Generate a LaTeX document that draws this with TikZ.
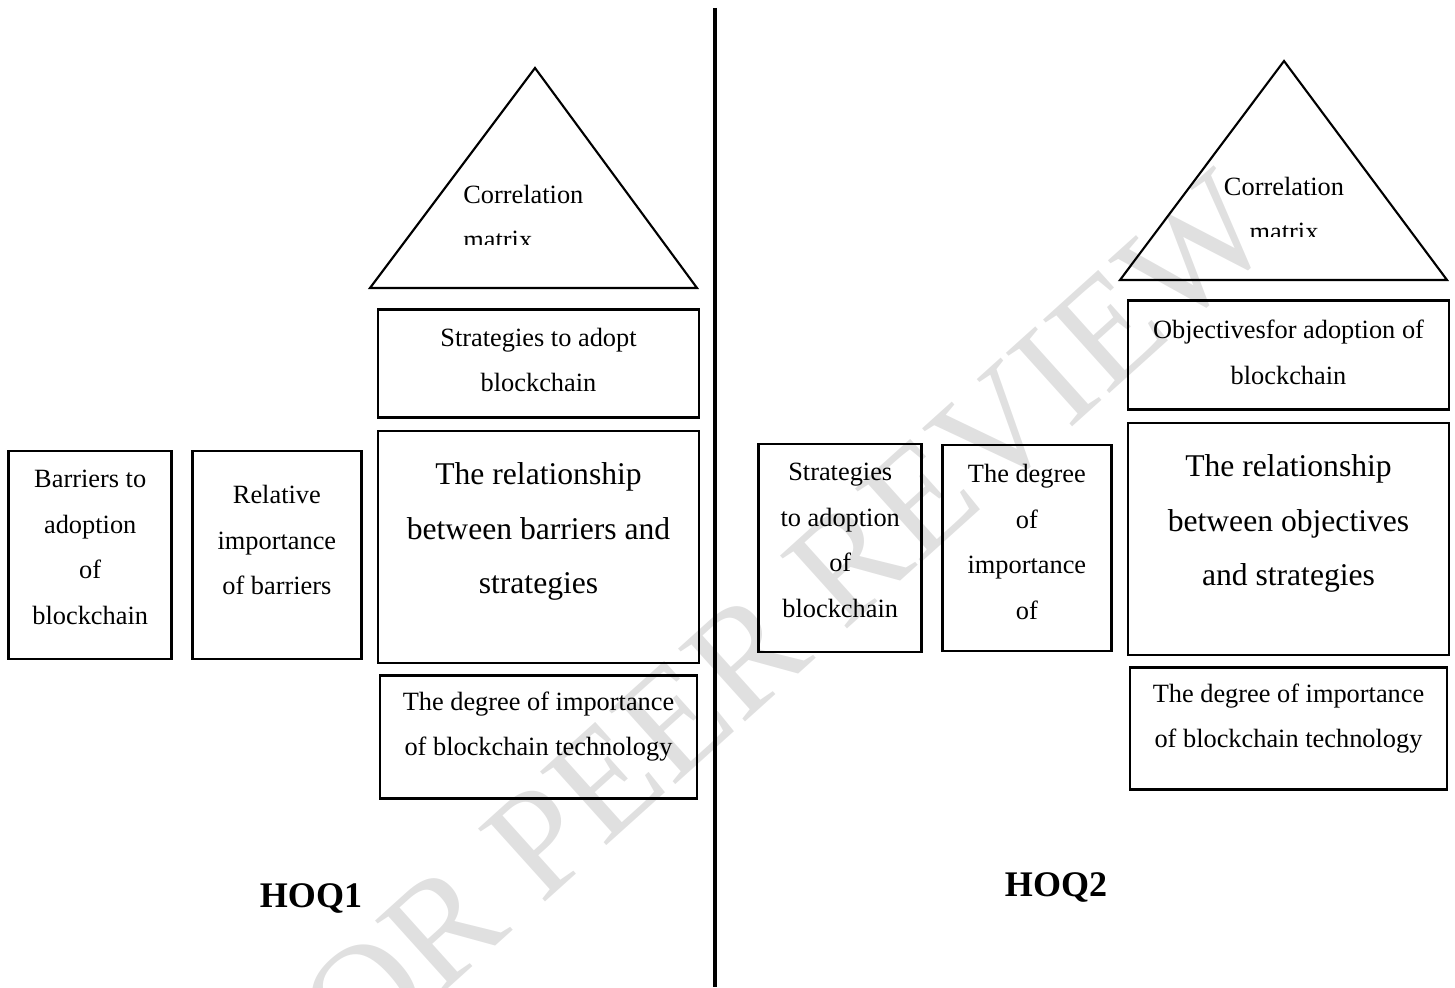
\documentclass[tikz,border=0pt]{standalone}
\usepackage{fontspec}
\setmainfont{Liberation Serif}
\usetikzlibrary{positioning}
\definecolor{wmark}{RGB}{224,224,224}
\tikzstyle{box}=[draw, line width=1.5pt, inner sep=0pt]
\tikzstyle{wide}=[box, minimum width=6.42cm]
\tikzstyle{slim}=[box, minimum height=4.16cm]
\tikzstyle{txt}=[align=center, inner sep=0pt, font=\fontsize{15}{26}\selectfont]
\tikzstyle{bigtxt}=[align=center, inner sep=0pt, font=\fontsize{18}{31.2}\selectfont]
\tikzstyle{hoq}=[font=\fontsize{20.5}{24}\selectfont\bfseries]
\tikzstyle{roof}=[draw, line width=1.2pt, line join=miter]
\tikzstyle{divider}=[draw, line width=2.8pt]
\tikzstyle{watermark}=[text=wmark, rotate=42, inner sep=0pt, font=\fontsize{86}{86}\selectfont]

\begin{document}
\begin{tikzpicture}[node distance=0.28cm]
    \useasboundingbox (0,0) rectangle (29.1,19.74);
    % watermark
    \begin{scope}
        \clip (0,0) rectangle (29.1,19.74);
        \node [watermark] (wm) at (15.10,6.80) {FOR PEER REVIEW};
    \end{scope}

    % HOQ1
    \node [wide, minimum height=4.64cm] (rel1) at (10.77,8.80) {};
    \node [wide, minimum height=2.16cm] (str1) [above=0.22cm of rel1] {};
    \node [wide, minimum width=6.34cm, minimum height=2.46cm] (deg1) [below=0.20cm of rel1] {};
    \node [slim, minimum width=3.38cm] (imp1) [left=0.28cm of rel1, yshift=-0.16cm] {};
    \node [slim, minimum width=3.26cm] (bar1) [left=0.36cm of imp1] {};
    \node [bigtxt] (rel1t) at ([yshift=0.31cm]rel1.center) {The relationship\\between barriers and\\strategies};
    \node [txt] (str1t) at ([yshift=0.07cm]str1.center) {Strategies to adopt\\blockchain};
    \node [txt] (deg1t) at ([yshift=0.21cm]deg1.center) {The degree of importance\\of blockchain technology};
    \node [txt] (imp1t) at ([yshift=0.30cm]imp1.center) {Relative\\importance\\of barriers};
    \node [txt] (bar1t) at ([yshift=0.15cm]bar1.center) {Barriers to\\adoption\\of\\blockchain};
    \draw [roof] (7.40,13.98) -- (10.70,18.38) -- (13.94,13.98) -- cycle;
    \begin{scope}
        \clip (7.4,14.84) rectangle (13.94,18.4);
        \node [txt, align=left, anchor=west] (cor1) at (9.26,15.40) {Correlation\\matrix};
    \end{scope}
    \node [hoq] (hoq1) at (6.22,1.78) {HOQ1};

    \coordinate (top) at (14.30,19.58);
    \coordinate (bot) at (14.30,0);
    \draw [divider] (top) -- (bot);

    % HOQ2
    \node [wide, minimum height=4.64cm] (rel2) at (25.77,8.96) {};
    \node [wide, minimum height=2.18cm] (obj2) [above=0.22cm of rel2] {};
    \node [wide, minimum width=6.34cm, minimum height=2.44cm] (deg2) [below=0.20cm of rel2] {};
    \node [box, minimum width=3.38cm, minimum height=4.12cm] (imp2) [left=0.28cm of rel2, yshift=-0.18cm] {};
    \node [slim, minimum width=3.26cm] (str2) [left=0.36cm of imp2] {};
    \node [bigtxt] (rel2t) at ([yshift=0.31cm]rel2.center) {The relationship\\between objectives\\and strategies};
    \node [txt] (obj2t) at ([yshift=0.05cm]obj2.center) {Objectivesfor adoption of\\blockchain};
    \node [txt] (deg2t) at ([yshift=0.20cm]deg2.center) {The degree of importance\\of blockchain technology};
    \node [txt] (imp2t) at ([yshift=0.12cm]imp2.center) {The degree\\of\\importance\\of};
    \node [txt] (str2t) at ([yshift=0.15cm]str2.center) {Strategies\\to adoption\\of\\blockchain};
    \draw [roof] (22.40,14.14) -- (25.68,18.52) -- (28.94,14.14) -- cycle;
    \begin{scope}
        \clip (22.4,15.0) rectangle (28.94,18.6);
        \node [txt] (cor2) at (25.68,15.56) {Correlation\\matrix};
    \end{scope}
    \node [hoq] (hoq2) at (21.12,2.00) {HOQ2};
\end{tikzpicture}
\end{document}
